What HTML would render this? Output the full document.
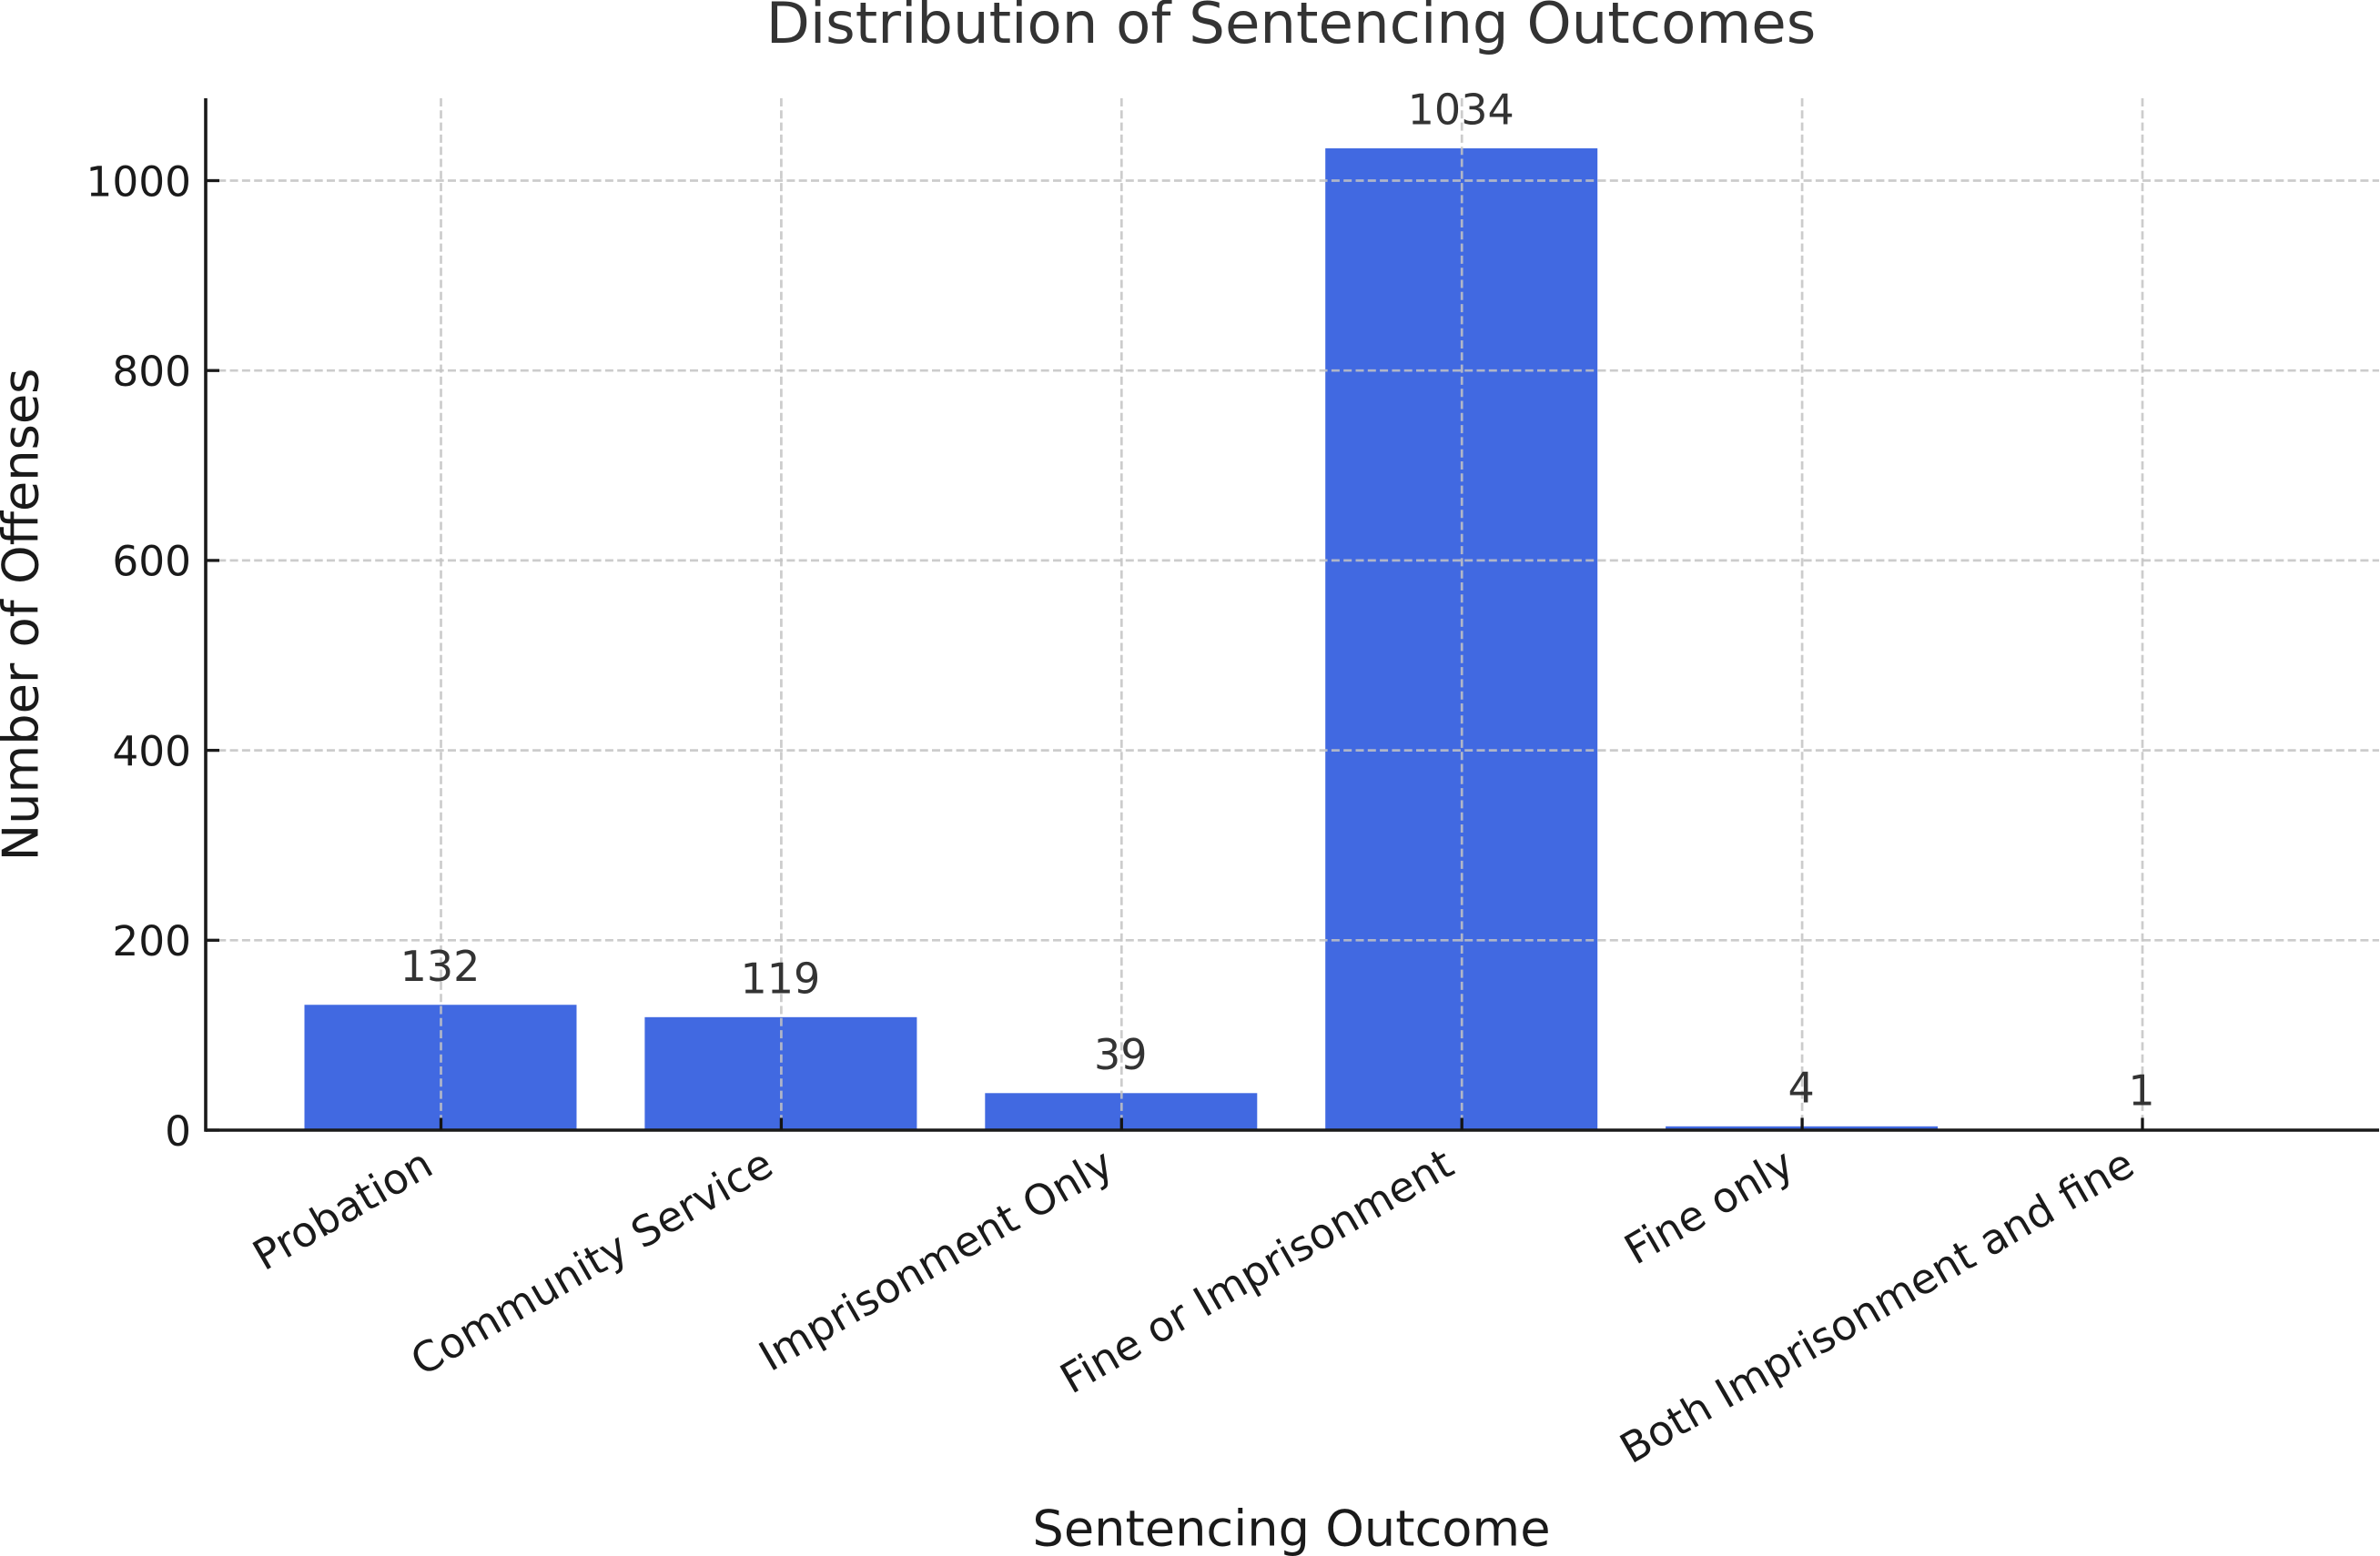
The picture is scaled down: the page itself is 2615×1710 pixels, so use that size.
<!DOCTYPE html>
<html>
<head>
<meta charset="utf-8">
<title>Distribution of Sentencing Outcomes</title>
<style>
html,body{margin:0;padding:0;background:#fff;width:2615px;height:1710px;overflow:hidden}
svg{display:block}
text{font-family:"DejaVu Sans","Liberation Sans",sans-serif}
</style>
</head>
<body>
<svg id="chart" xmlns="http://www.w3.org/2000/svg" width="2615" height="1710" viewBox="0 0 2615 1710">
  <rect x="0" y="0" width="2615" height="1710" fill="#ffffff"/>
  <g id="bars"></g>
  <g id="grid"></g>
  <g id="axes"></g>
  <g id="ticks"></g>
  <g id="values"></g>
  <text x="1418.5" y="47" text-anchor="middle" font-size="62.5" fill="#333333">Distribution of Sentencing Outcomes</text>
  <text x="1419" y="1698.5" text-anchor="middle" font-size="54.2" fill="#1a1a1a">Sentencing Outcome</text>
  <text x="41.5" y="675.5" text-anchor="middle" font-size="54.2" fill="#1a1a1a" transform="rotate(-90 41.5 675.5)">Number of Offenses</text>
</svg>
<script>
const categories = ['Probation', 'Community Service', 'Imprisonment Only', 'Fine or Imprisonment', 'Fine only', 'Both Imprisonment and fine'];
const offenses = [132, 119, 39, 1034, 4, 1];
const yTickValues = [0, 200, 400, 600, 800, 1000];

const NS = 'http://www.w3.org/2000/svg';
const plot = { left: 226, right: 2614, bottom: 1242, top: 108, firstX: 484.5, stepX: 373.9, barWidth: 299, pxPerUnit: 1.0435 };
const xScale = function (i) { return plot.firstX + plot.stepX * i; };
const yScale = function (v) { return plot.bottom - plot.pxPerUnit * v; };

function make(tag, parentId, attrs, content) {
  const el = document.createElementNS(NS, tag);
  Object.keys(attrs).forEach(function (k) { el.setAttribute(k, attrs[k]); });
  if (content !== undefined) { el.textContent = content; }
  document.getElementById(parentId).appendChild(el);
  return el;
}
function slug(s) { return String(s).toLowerCase().replace(/[^a-z0-9]+/g, '-'); }

categories.forEach(function (cat, i) {
  const cx = xScale(i);
  const top = yScale(offenses[i]);

  const bar = make('rect', 'bars', { x: cx - plot.barWidth / 2 - 0.5, y: top, width: plot.barWidth, height: plot.bottom - top, fill: '#4169e1' });
  
  

  const vGrid = make('line', 'grid', { x1: cx, x2: cx, y1: plot.top, y2: plot.bottom, stroke: '#c3c3c3', 'stroke-opacity': 0.85, 'stroke-width': 2.7, 'stroke-dasharray': '9 4.3' });
  
  

  const tick = make('line', 'ticks', { x1: cx, x2: cx, y1: plot.bottom - 13.5, y2: plot.bottom, stroke: '#141414', 'stroke-width': 3.3 });
  
  

  const ax = cx - 6;
  const ay = plot.bottom + 46.5;
  const label = make('text', 'ticks', { x: ax, y: ay, 'text-anchor': 'end', 'font-size': 45.8, fill: '#1a1a1a', transform: 'rotate(-30 ' + ax + ' ' + ay + ')' }, cat);
  
  

  const value = make('text', 'values', { x: cx - 1, y: top - 26.5, 'text-anchor': 'middle', 'font-size': 46, fill: '#333333' }, offenses[i]);
  
  
});

yTickValues.forEach(function (v) {
  const y = yScale(v);

  if (v > 0) {
    const hGrid = make('line', 'grid', { x1: plot.left, x2: plot.right, y1: y, y2: y, stroke: '#c3c3c3', 'stroke-opacity': 0.85, 'stroke-width': 2.7, 'stroke-dasharray': '9 4.3' });
    
    
  }

  const tick = make('line', 'ticks', { x1: plot.left, x2: plot.left + 15, y1: y, y2: y, stroke: '#1a1a1a', 'stroke-width': 3.3 });
  
  

  const label = make('text', 'ticks', { x: 210, y: y + 16.8, 'text-anchor': 'end', 'font-size': 45.4, fill: '#1a1a1a' }, v);
  
  
});

const ySpine = make('line', 'axes', { x1: plot.left, x2: plot.left, y1: plot.top, y2: plot.bottom + 1.8, stroke: '#1a1a1a', 'stroke-width': 3.6 });



const xSpine = make('line', 'axes', { x1: plot.left, x2: plot.right, y1: plot.bottom, y2: plot.bottom, stroke: '#1a1a1a', 'stroke-width': 3.6 });


</script>
</body>
</html>
